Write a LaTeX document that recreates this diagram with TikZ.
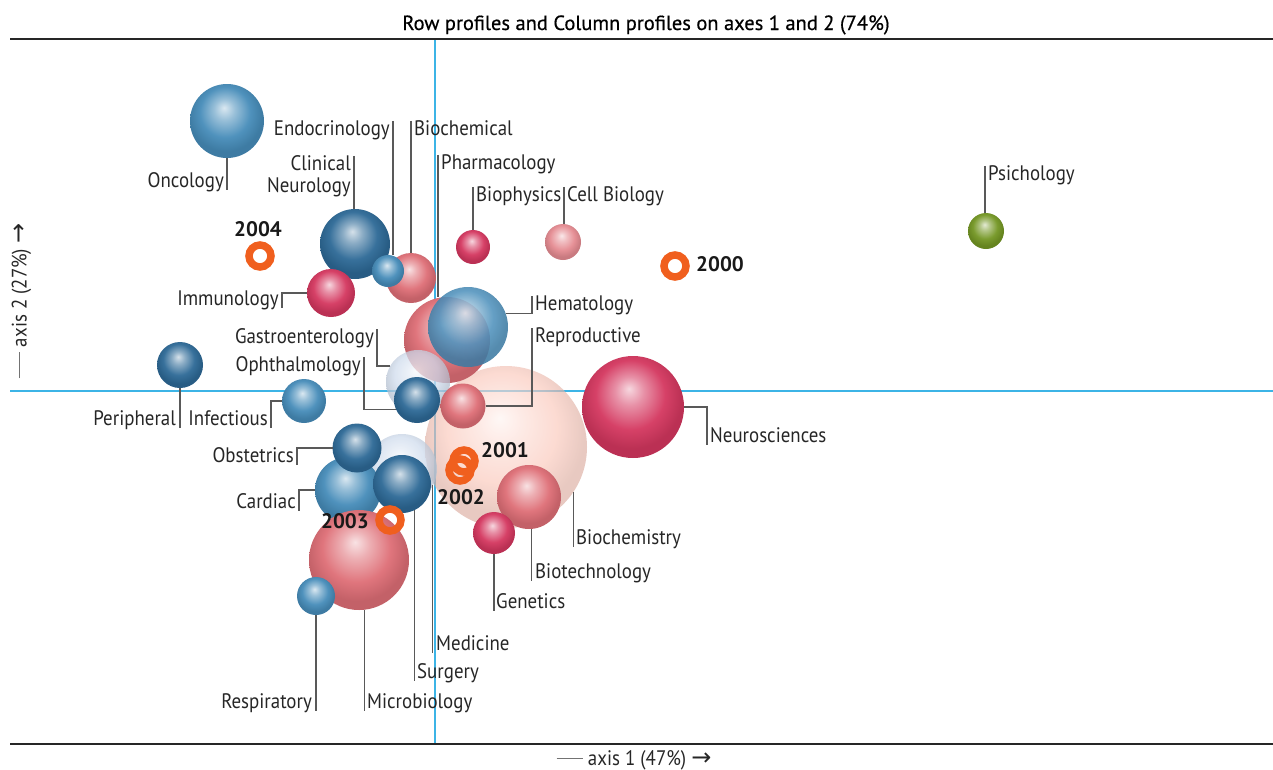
\documentclass[tikz,border=0pt]{standalone}
\usepackage{fontspec}
\setmainfont[FakeStretch=0.9]{PT Sans}
\newfontfamily\yrfont{PT Sans}
\newfontfamily\ttlfont[FakeBold=0.5]{PT Sans}
\newfontfamily\arrfont{DejaVu Sans}
\definecolor{cblue}{RGB}{70,140,185}
\definecolor{cdark}{RGB}{45,105,150}
\definecolor{cred}{RGB}{212,55,95}
\definecolor{csalmon}{RGB}{222,110,118}
\definecolor{cpink}{RGB}{250,196,182}
\definecolor{cpale}{RGB}{205,218,236}
\definecolor{cgreen}{RGB}{115,150,35}
\definecolor{cring}{RGB}{240,95,30}
\definecolor{caxis}{RGB}{60,180,230}
\colorlet{bub}{gray}
\pgfdeclareradialshading[bub]{bubble}{\pgfqpoint{-2bp}{9bp}}{color(0bp)=(bub!20!white); color(7bp)=(bub!55!white); color(17bp)=(bub!95!white); color(25bp)=(bub!88!black); color(50bp)=(bub!88!black)}
\newcommand\lblfont{\fontsize{21}{23}\selectfont}
\newcommand\yrsize{\yrfont\fontsize{21}{24}\selectfont\bfseries}
\newcommand\axdash{\textcolor{black!55}{\rule[0.3em]{1.25em}{0.055em}}}
\newcommand\axarrow{{\arrfont\fontsize{24}{24}\selectfont →}}
\tikzset{
  sph/.style={circle, inner sep=0pt, outer sep=0pt, minimum size=#1, shade, shading=bubble},
  tint/.code={\colorlet{bub}{#1}},
  ring/.style={circle, draw=cring, line width=7.5pt, inner sep=0pt, minimum size=22},
  lab/.style={font=\lblfont, text=black!85, inner xsep=3pt, inner ysep=0pt, text height=14pt, text depth=3pt},
  yr/.style={font=\yrsize, text=black!90, inner sep=0pt},
  leader/.style={draw=black!65, line width=1.1pt},
  frame/.style={draw=black!85, line width=1.3pt},
  axisln/.style={draw=caxis, line width=1.3pt}
}
\begin{document}
\begin{tikzpicture}[x=1pt, y=-1pt]
\useasboundingbox (0,0) rectangle (1273,769);
\node[anchor=base, text=black, inner sep=0pt, font=\ttlfont\fontsize{20.5}{23}\selectfont] (title) at (646,30) {Row profiles and Column profiles on axes 1 and 2 (74\%)};
\coordinate (ftl) at (10,39); \coordinate (ftr) at (1273,39);
\coordinate (fbl) at (10,744); \coordinate (fbr) at (1273,744);
\coordinate (vt) at (435,39); \coordinate (vb) at (435,744);
\coordinate (hl) at (10,391); \coordinate (hr) at (1273,391);
\draw[axisln] (vt) -- (vb);
\draw[axisln] (hl) -- (hr);
\draw[frame] (ftl) -- (ftr);
\draw[frame] (fbl) -- (fbr);
\node[lab, rotate=90] (ax2) at (21,301) {\axdash{} axis 2 (27\%) \axarrow};
\node[lab] (ax1) at (634,760) {\axdash{} axis 1 (47\%) \axarrow};

\node[sph=162, tint=cpink, opacity=0.65] (bchm) at (506,447) {};
\node[sph=86, tint=csalmon] (phar) at (447,340) {};
\node[sph=80, tint=cblue, opacity=0.88] (hema) at (468,327) {};
\node[sph=64, tint=cpale, opacity=0.75] (gast) at (418,382) {};
\node[sph=46, tint=cdark] (opht) at (417,400) {};
\node[sph=45, tint=csalmon] (repr) at (463,406) {};
\node[sph=102, tint=cred] (neur) at (633,407) {};
\node[sph=64, tint=csalmon] (btec) at (529,497) {};
\node[sph=42, tint=cred] (gene) at (494,533) {};
\node[sph=70, tint=cpale, opacity=0.75] (medi) at (402,469) {};
\node[sph=66, tint=cblue] (card) at (348,490) {};
\node[sph=49, tint=cdark] (obst) at (357,448) {};
\node[sph=58, tint=cdark] (surg) at (402,484) {};
\node[sph=100, tint=csalmon] (micr) at (359,560) {};
\node[sph=38, tint=cblue] (resp) at (316,596) {};
\node[sph=74, tint=cblue] (onco) at (227,121) {};
\node[sph=70, tint=cdark] (clin) at (355,244) {};
\node[sph=48, tint=cred] (immu) at (331,293) {};
\node[sph=50, tint=csalmon] (bche) at (411,278) {};
\node[sph=32, tint=cblue] (endo) at (388,271) {};
\node[sph=34, tint=cred] (bphy) at (473,247) {};
\node[sph=36, tint=csalmon!80!white] (cell) at (563,242) {};
\node[sph=36, tint=cgreen] (psic) at (986,231) {};
\node[sph=46, tint=cdark] (peri) at (180,365) {};
\node[sph=44, tint=cblue] (infe) at (304,401) {};

\node[ring] (r2004) at (260,256) {};
\node[ring] (r2000) at (675,266) {};
\node[ring] (r2002) at (460,470) {};
\node[ring] (r2001) at (464,461) {};
\node[ring] (r2003) at (390,520) {};
\node[yr, anchor=base] (y2004) at (258,236) {2004};
\node[yr, anchor=base west] (y2000) at (696,271) {2000};
\node[yr, anchor=base west] (y2001) at (481,457) {2001};
\node[yr, anchor=base west] (y2002) at (437,504) {2002};
\node[yr, anchor=base east] (y2003) at (369,528) {2003};

\node[lab, anchor=base east] (lOnco) at (227,187) {Oncology};
\node[lab, anchor=base east] (lEndo) at (393,135) {Endocrinology};
\node[lab, anchor=base west] (lBche) at (411,135) {Biochemical};
\node[lab, anchor=base east] (lClin) at (354,170) {Clinical};
\node[lab, anchor=base east] (lClin2) at (354,192) {Neurology};
\node[lab, anchor=base west] (lPhar) at (438,169) {Pharmacology};
\node[lab, anchor=base west] (lBphy) at (473,201) {Biophysics};
\node[lab, anchor=base west] (lCell) at (564,201) {Cell Biology};
\node[lab, anchor=base west] (lPsic) at (985,180) {Psichology};
\node[lab, anchor=base east] (lImmu) at (282,305) {Immunology};
\node[lab, anchor=base west] (lHema) at (532,310) {Hematology};
\node[lab, anchor=base west] (lRepr) at (532,342) {Reproductive};
\node[lab, anchor=base east] (lGast) at (377,343) {Gastroenterology};
\node[lab, anchor=base east] (lOpht) at (364,371) {Ophthalmology};
\node[lab, anchor=base east] (lPeri) at (179,425) {Peripheral};
\node[lab, anchor=base east] (lInfe) at (271,425) {Infectious};
\node[lab, anchor=base west] (lNeur) at (707,442) {Neurosciences};
\node[lab, anchor=base east] (lObst) at (297,462) {Obstetrics};
\node[lab, anchor=base east] (lCard) at (299,508) {Cardiac};
\node[lab, anchor=base west] (lBchm) at (573,544) {Biochemistry};
\node[lab, anchor=base west] (lBtec) at (532,578) {Biotechnology};
\node[lab, anchor=base west] (lGene) at (493,608) {Genetics};
\node[lab, anchor=base west] (lMedi) at (433,650) {Medicine};
\node[lab, anchor=base west] (lSurg) at (414,678) {Surgery};
\node[lab, anchor=base east] (lResp) at (315,708) {Respiratory};
\node[lab, anchor=base west] (lMicr) at (364,708) {Microbiology};

\draw[leader] (onco.south) -- (onco.south |- lOnco.south);
\draw[leader] (lEndo.north east) -- (lEndo.north east |- endo.north);
\draw[leader] (lBche.north west) -- (lBche.north west |- bche.north);
\draw[leader] (lClin.north east) -- (lClin.north east |- clin.north);
\draw[leader] (lPhar.north west) -- (lPhar.north west |- phar.north);
\draw[leader] (lBphy.north west) -- (lBphy.north west |- bphy.north);
\draw[leader] (lCell.north west) -- (lCell.north west |- cell.north);
\draw[leader] (lPsic.north west) -- (lPsic.north west |- psic.north);
\draw[leader] (immu.west) -| (lImmu.south east);
\draw[leader] (hema.20) -| (lHema.north west);
\draw[leader] (repr.east) -| (lRepr.north west);
\draw[leader] (gast.150) -| (lGast.north east);
\draw[leader] (opht.205) -| (lOpht.north east);
\draw[leader] (peri.south) -- (peri.south |- lPeri.south);
\draw[leader] (infe.west) -| (lInfe.south east);
\draw[leader] (neur.east) -| (lNeur.south west);
\draw[leader] (obst.west) -| (lObst.south east);
\draw[leader] (card.west) -| (lCard.south east);
\draw[leader] (bchm.-34) -- (bchm.-34 |- lBchm.south);
\draw[leader] (btec.-85) -- (btec.-85 |- lBtec.south);
\draw[leader] (gene.south) -- (gene.south |- lGene.south);
\draw[leader] (medi.-28) -- (medi.-28 |- lMedi.south);
\draw[leader] (surg.-65) -- (surg.-65 |- lSurg.south);
\draw[leader] (micr.-84) -- (micr.-84 |- lMicr.south);
\draw[leader] (resp.south) -- (resp.south |- lResp.south);
\end{tikzpicture}
\end{document}
